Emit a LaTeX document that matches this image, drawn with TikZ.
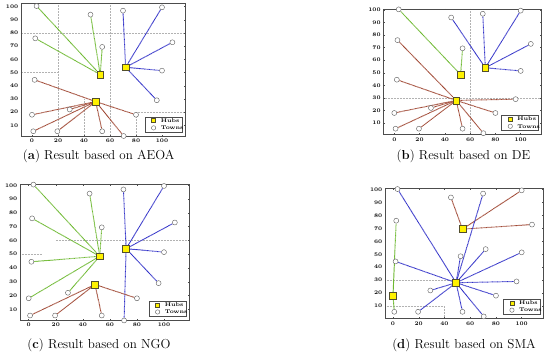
\documentclass[tikz,border=0pt]{standalone}
\usepackage{fontspec}
\definecolor{lgreen}{RGB}{110,185,50}
\definecolor{lblue}{RGB}{50,50,200}
\definecolor{lred}{RGB}{160,72,52}
\pgfdeclarelayer{back}
\pgfdeclarelayer{lines}
\pgfsetlayers{back,lines,main}
\tikzset{
  town/.style={circle,draw=black!65,fill=white,line width=0.4pt,minimum size=5pt,inner sep=0pt},
  hub/.style={rectangle,draw=black!55!olive,fill=yellow,line width=0.45pt,minimum size=6.8pt,inner sep=0pt},
  link/.style={line width=0.95pt,dash pattern=on 0.8pt off 0.45pt},
  gl/.style={link,draw=lgreen},
  bl/.style={link,draw=lblue},
  rl/.style={link,draw=lred},
  axframe/.style={draw=black!70,line width=0.45pt},
  gridln/.style={draw=black!30,line width=0.35pt,dash pattern=on 0.5pt off 1pt},
  ticklbl/.style={font=\fontsize{5.4}{6}\selectfont\bfseries,inner sep=0pt},
  legbox/.style={draw=black!70,fill=white,line width=0.4pt,minimum width=37pt,minimum height=15pt,inner sep=0pt},
  legtext/.style={font=\fontsize{5.4}{6}\selectfont\bfseries,inner sep=0pt},
  capt/.style={font=\fontsize{13}{15}\selectfont\addfontfeatures{LetterSpace=5},inner sep=0pt},
}
\def\towns{1/3.5/100.5,2/45/94,3/70/97,4/100/99.5,5/2.5/76,6/54/69.5,7/108/73,8/72/54,9/52.5/48.5,10/100/51.5,11/2/44.5,12/96/29,13/49/28,14/0/18,15/29/22,16/80/18,17/1/5.5,18/19.5/5.5,19/54/5.5,20/70.5/1.9}
\newcommand\drawaxes{%
  \begin{pgfonlayer}{back}
    \draw[axframe] (\xmn,\ymn) rectangle (\xmx,\ymx);
    \foreach \v in {0,20,40,60,80,100}{
      \draw[axframe] (\v,\ymn) -- ++(0,1.3pt);
      \draw[axframe] (\v,\ymx) -- ++(0,-1.3pt);
    }
    \foreach \v in {10,20,...,100}{
      \draw[axframe] (\xmn,\v) -- ++(1.3pt,0);
      \draw[axframe] (\xmx,\v) -- ++(-1.3pt,0);
    }
  \end{pgfonlayer}
  \foreach \v in {0,20,40,60,80,100}
    \node[ticklbl,anchor=north] (\p x\v) at ([yshift=-3pt]\v,\ymn) {\v};
  \foreach \v in {10,20,...,100}
    \node[ticklbl,anchor=east] (\p y\v) at ([xshift=-2.5pt]\xmn,\v) {\v};
  \foreach \i/\X/\Y in \towns
    \node[town] (\p\i) at (\X,\Y) {};
  \coordinate (\p br) at (\xmx,\ymn);
  \node[legbox,anchor=south east] (\p leg) at ([xshift=-3pt,yshift=4pt]\p br) {};
  \node[hub,minimum size=4pt] (\p lh) at ([xshift=9pt,yshift=3.6pt]\p leg.west) {};
  \node[town,minimum size=4.4pt] (\p lt) at ([xshift=9pt,yshift=-3.6pt]\p leg.west) {};
  \node[legtext,anchor=west] (\p lht) at ([xshift=16pt,yshift=3.6pt]\p leg.west) {Hubs};
  \node[legtext,anchor=west] (\p ltt) at ([xshift=16pt,yshift=-3.6pt]\p leg.west) {Towns};
}
\begin{document}
\begin{tikzpicture}[x=1pt,y=1pt]
\useasboundingbox (0,0) rectangle (550,361);

% ---------------- (a) AEOA
\begin{scope}[shift={(32pt,222.5pt)},x=1.3pt,y=1.318pt]
  \def\p{a}\def\xmn{-8.5}\def\xmx{117.7}\def\ymn{1.9}\def\ymx{102.8}
  \begin{pgfonlayer}{back}
    \draw[gridln] (20,\ymn) -- (20,\ymx);
    \draw[gridln] (60,\ymn) -- (60,\ymx);
    \draw[gridln] (40,\ymn) -- (40,30);
    \draw[gridln] (80,\ymn) -- (80,20);
    \draw[gridln] (\xmn,80) -- (\xmx,80);
    \draw[gridln] (\xmn,50) -- (20,50);
    \draw[gridln] (80,20) -- (\xmx,20);
  \end{pgfonlayer}
  \drawaxes
  \node[hub] (aH9) at (a9) {};
  \node[hub] (aH8) at (a8) {};
  \node[hub] (aH13) at (a13) {};
  \begin{pgfonlayer}{lines}
    \foreach \t in {1,2,5,6} \draw[gl] (aH9) -- (a\t);
    \foreach \t in {3,4,7,10,12} \draw[bl] (aH8) -- (a\t);
    \foreach \t in {11,14,15,16,17,18,19,20} \draw[rl] (aH13) -- (a\t);
  \end{pgfonlayer}
\end{scope}

% ---------------- (b) DE
\begin{scope}[shift={(394.3pt,225.4pt)},x=1.264pt,y=1.256pt]
  \def\p{b}\def\xmn{-8.7}\def\xmx{116.6}\def\ymn{1.0}\def\ymx{100.8}
  \begin{pgfonlayer}{back}
    \draw[gridln] (60,\ymn) -- (60,\ymx);
    \draw[gridln] (\xmn,30) -- (\xmx,30);
  \end{pgfonlayer}
  \drawaxes
  \node[hub] (bH9) at (b9) {};
  \node[hub] (bH8) at (b8) {};
  \node[hub] (bH13) at (b13) {};
  \begin{pgfonlayer}{lines}
    \foreach \t in {1,6} \draw[gl] (bH9) -- (b\t);
    \foreach \t in {2,3,4,7,10} \draw[bl] (bH8) -- (b\t);
    \foreach \t in {5,11,12,14,15,16,17,18,19,20} \draw[rl] (bH13) -- (b\t);
  \end{pgfonlayer}
\end{scope}

% ---------------- (c) NGO
\begin{scope}[shift={(28.7pt,37.9pt)},x=1.353pt,y=1.378pt]
  \def\p{c}\def\xmn{-6.4}\def\xmx{118.5}\def\ymn{2.2}\def\ymx{100.7}
  \begin{pgfonlayer}{back}
    \draw[gridln] (20,60) -- (\xmx,60);
    \draw[gridln] (\xmn,50) -- (10,50);
  \end{pgfonlayer}
  \drawaxes
  \node[hub] (cH9) at (c9) {};
  \node[hub] (cH8) at (c8) {};
  \node[hub] (cH13) at (c13) {};
  \begin{pgfonlayer}{lines}
    \foreach \t in {1,2,5,6,11,14,15} \draw[gl] (cH9) -- (c\t);
    \foreach \t in {3,4,7,10,12,20} \draw[bl] (cH8) -- (c\t);
    \foreach \t in {16,17,18,19} \draw[rl] (cH13) -- (c\t);
  \end{pgfonlayer}
\end{scope}

% ---------------- (d) SMA
\begin{scope}[shift={(393pt,42.1pt)},x=1.287pt,y=1.292pt]
  \def\p{d}\def\xmn{-6.2}\def\xmx{116.8}\def\ymn{0.5}\def\ymx{101}
  \begin{pgfonlayer}{back}
    \draw[gridln] (\xmn,30) -- (49,30);
    \draw[gridln] (\xmn,10) -- (40,10);
    \draw[gridln] (40,\ymn) -- (40,10);
  \end{pgfonlayer}
  \drawaxes
  \node[hub] (dH6) at (d6) {};
  \node[hub] (dH14) at (d14) {};
  \node[hub] (dH13) at (d13) {};
  \begin{pgfonlayer}{lines}
    \foreach \t in {2,4,7} \draw[rl] (dH6) -- (d\t);
    \foreach \t in {5,17} \draw[gl] (dH14) -- (d\t);
    \foreach \t in {1,3,8,9,10,11,12,15,16,18,19,20} \draw[bl] (dH13) -- (d\t);
  \end{pgfonlayer}
\end{scope}

% ---------------- captions
\node[capt] (capa) at (98.7,205) {(\textbf{a}) Result based on AEOA};
\node[capt] (capb) at (463.5,205) {(\textbf{b}) Result based on DE};
\node[capt] (capc) at (99,16) {(\textbf{c}) Result based on NGO};
\node[capt] (capd) at (464,16) {(\textbf{d}) Result based on SMA};
\end{tikzpicture}
\end{document}
